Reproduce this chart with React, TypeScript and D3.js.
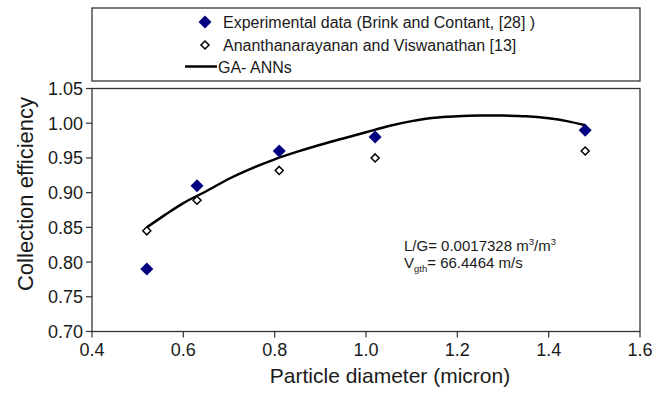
import React from "react";
import * as d3 from "d3";

const expX = [0.52, 0.63, 0.81, 1.02, 1.48];
const expY = [0.79, 0.91, 0.96, 0.98, 0.99];
const anaX = [0.52, 0.63, 0.81, 1.02, 1.48];
const anaY = [0.845, 0.889, 0.932, 0.95, 0.96];
const annX = [0.52, 0.56, 0.6, 0.65, 0.7, 0.75, 0.8, 0.85, 0.9, 0.95, 1.0, 1.05, 1.1, 1.15, 1.2, 1.25, 1.3, 1.35, 1.4, 1.44, 1.48];
const annY = [0.85, 0.868, 0.885, 0.902, 0.92, 0.935, 0.948, 0.959, 0.969, 0.978, 0.987, 0.996, 1.003, 1.008, 1.01, 1.011, 1.011, 1.01, 1.007, 1.003, 0.997];
const xTicks = [0.4, 0.6, 0.8, 1.0, 1.2, 1.4, 1.6];
const yTicks = [0.7, 0.75, 0.8, 0.85, 0.9, 0.95, 1.0, 1.05];
const legendLabels = ["Experimental data (Brink and Contant, [28] )", "Ananthanarayanan and Viswanathan [13]", "GA- ANNs"];

const W = 662, H = 393;
const L = 92, R = 640, T = 88.5, B = 331.5;
const font = "Liberation Sans, Arial, sans-serif";
const txt = "#1a1a1a";

export default function App() {
  const x = d3.scaleLinear().domain([0.4, 1.6]).range([L, R]);
  const y = d3.scaleLinear().domain([0.7, 1.05]).range([B, T]);
  const line = d3.line<number>().x((_, i) => x(annX[i])).y((d) => y(d)).curve(d3.curveCatmullRom);
  const diamond = (cx: number, cy: number, r: number) => `M${cx},${cy - r}L${cx + r},${cy}L${cx},${cy + r}L${cx - r},${cy}Z`;
  return (
    <svg width={W} height={H} style={{ position: "absolute", left: 0, top: 0, background: "#fff" }} fontFamily={font}>
      {/* legend */}
      <rect x={L} y={8} width={R - L} height={73} fill="#fff" stroke="#333" strokeWidth={1.3} />
      <path d={diamond(205, 22, 6.5)} fill="#000080" />
      <text x={223} y={27.5} fontSize={16} fill={txt}>{legendLabels[0]}</text>
      <path d={diamond(205, 45, 4)} fill="#fff" stroke="#000" strokeWidth={1.5} />
      <text x={223} y={50.5} fontSize={16} fill={txt}>{legendLabels[1]}</text>
      <line x1={185} x2={217} y1={66.5} y2={66.5} stroke="#000" strokeWidth={2.5} />
      <text x={218} y={72.5} fontSize={16} fill={txt}>{legendLabels[2]}</text>

      {/* plot frame */}
      <rect x={L} y={T} width={R - L} height={B - T} fill="none" stroke="#333" strokeWidth={1.3} />
      {yTicks.map((t) => (
        <g key={"y" + t}>
          <line x1={L - 6} x2={L} y1={y(t)} y2={y(t)} stroke="#333" strokeWidth={1.2} />
          <text x={L - 9} y={y(t)} dy="0.36em" textAnchor="end" fontSize={18} fill={txt}>{t.toFixed(2)}</text>
        </g>
      ))}
      {xTicks.map((t) => (
        <g key={"x" + t}>
          <line x1={x(t)} x2={x(t)} y1={B} y2={B + 6} stroke="#333" strokeWidth={1.2} />
          <text x={x(t)} y={B + 24} textAnchor="middle" fontSize={18} fill={txt}>{t.toFixed(1)}</text>
        </g>
      ))}
      <text x={390} y={383} textAnchor="middle" fontSize={21} fill={txt}>Particle diameter (micron)</text>
      <text transform={`translate(33,194) rotate(-90)`} textAnchor="middle" fontSize={22} fill={txt}>Collection efficiency</text>

      <path d={line(annY) || ""} fill="none" stroke="#000" strokeWidth={2.5} />
      {anaY.map((v, i) => (
        <path key={"a" + i} d={diamond(x(anaX[i]), y(v), 4)} fill="#fff" stroke="#000" strokeWidth={1.5} />
      ))}
      {expY.map((v, i) => (
        <path key={"e" + i} d={diamond(x(expX[i]), y(v), 6.5)} fill="#000080" />
      ))}

      <text x={404} y={251} fontSize={15} fill={txt}>
        L/G= 0.0017328 m<tspan dy={-6} fontSize={9.5}>3</tspan><tspan dy={6}>/m</tspan><tspan dy={-6} fontSize={9.5}>3</tspan>
      </text>
      <text x={404} y={268} fontSize={15} fill={txt}>
        V<tspan dy={4} fontSize={9.5}>gth</tspan><tspan dy={-4}>= 66.4464 m/s</tspan>
      </text>
    </svg>
  );
}
